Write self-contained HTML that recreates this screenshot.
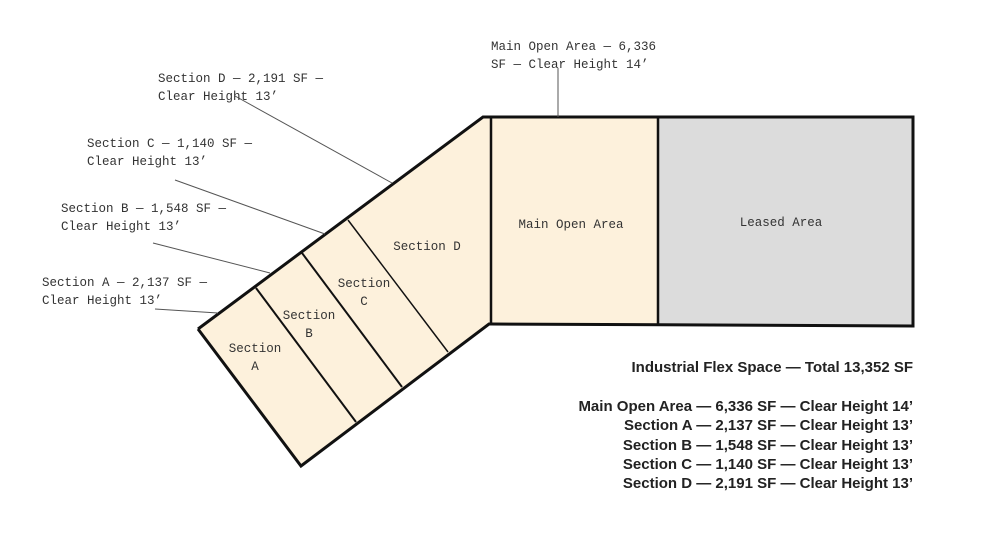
<!DOCTYPE html>
<html><head><meta charset="utf-8"><style>
html,body{margin:0;padding:0;background:#fff}
svg{display:block}
.m{font-family:"Liberation Mono",monospace;font-size:12.5px;fill:#333}
.b{font-family:"Liberation Sans",sans-serif;font-size:15px;font-weight:bold;fill:#222;text-anchor:end}
</style></head><body>
<svg width="984" height="554" viewBox="0 0 984 554" xmlns="http://www.w3.org/2000/svg">
<polygon points="198,329 483,117 491,117 491,324 489,324 301,466" fill="#fdf1dc"/>
<rect x="491" y="117" width="167" height="208" fill="#fdf1dc"/>
<rect x="658" y="117" width="255" height="209" fill="#dcdcdc"/>
<g stroke="#111" fill="none">
<polyline points="198,329 483,117 913,117 913,326 491,324 489,324 301,466 198,329" stroke-width="3" stroke-linejoin="miter"/>
<line x1="491" y1="117" x2="491" y2="324" stroke-width="2.5"/>
<line x1="658" y1="117" x2="658" y2="325" stroke-width="2.5"/>
<line x1="256" y1="288" x2="356" y2="422" stroke-width="2"/>
<line x1="302" y1="253" x2="402" y2="387" stroke-width="2"/>
<line x1="348" y1="220" x2="448" y2="352" stroke-width="1.5"/>
</g>
<g stroke="#555" stroke-width="1">
<line x1="235" y1="96" x2="392" y2="183"/>
<line x1="175" y1="180" x2="325" y2="234"/>
<line x1="153" y1="243" x2="270" y2="273"/>
<line x1="155" y1="309" x2="218" y2="313"/>
<line x1="558" y1="68" x2="558" y2="117"/>
</g>
<text class="m" x="491" y="50">Main Open Area — 6,336</text>
<text class="m" x="491" y="68">SF — Clear Height 14’</text>
<text class="m" x="158" y="82">Section D — 2,191 SF —</text>
<text class="m" x="158" y="100">Clear Height 13’</text>
<text class="m" x="87" y="147">Section C — 1,140 SF —</text>
<text class="m" x="87" y="165">Clear Height 13’</text>
<text class="m" x="61" y="212">Section B — 1,548 SF —</text>
<text class="m" x="61" y="230">Clear Height 13’</text>
<text class="m" x="42" y="286">Section A — 2,137 SF —</text>
<text class="m" x="42" y="304">Clear Height 13’</text>
<g class="m" text-anchor="middle">
<text x="255" y="352">Section</text><text x="255" y="370">A</text>
<text x="309" y="319">Section</text><text x="309" y="337">B</text>
<text x="364" y="287">Section</text><text x="364" y="305">C</text>
<text x="427" y="250">Section D</text>
<text x="571" y="228">Main Open Area</text>
<text x="781" y="226">Leased Area</text>
</g>
<text class="b" x="913" y="372">Industrial Flex Space — Total 13,352 SF</text>
<text class="b" x="913" y="411">Main Open Area — 6,336 SF — Clear Height 14’</text>
<text class="b" x="913" y="430">Section A — 2,137 SF — Clear Height 13’</text>
<text class="b" x="913" y="450">Section B — 1,548 SF — Clear Height 13’</text>
<text class="b" x="913" y="469">Section C — 1,140 SF — Clear Height 13’</text>
<text class="b" x="913" y="488">Section D — 2,191 SF — Clear Height 13’</text>
</svg>
</body></html>
